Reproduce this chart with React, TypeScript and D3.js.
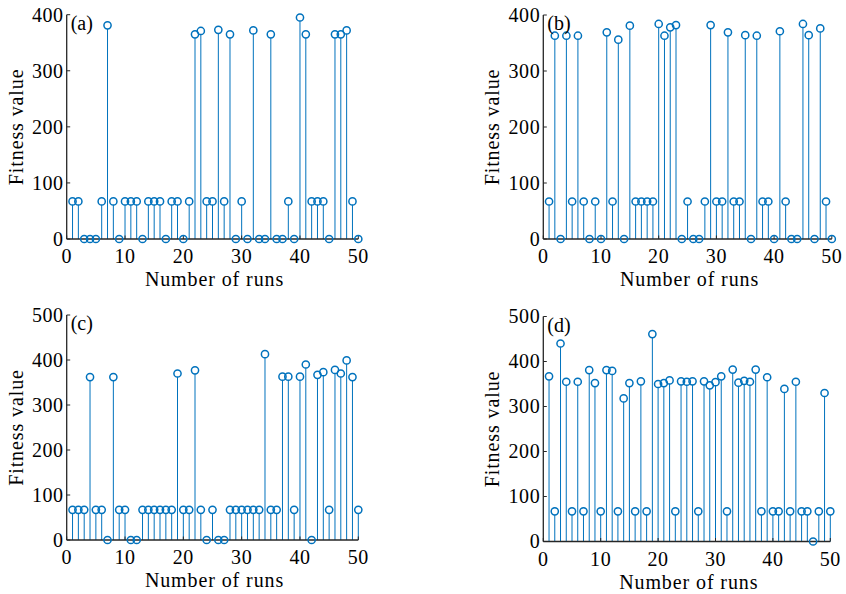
import React from "react";
import * as d3 from "d3";

const runs: number[] = d3.range(1, 51);

const fitnessA = [67,67,0,0,0,67,381,67,0,67,67,67,0,67,67,67,0,67,67,0,67,365,371,67,67,373,67,365,0,67,0,372,0,0,365,0,0,67,0,395,365,67,67,67,0,365,365,372,67,0];
const fitnessB = [67,363,0,363,67,363,67,0,67,0,369,67,356,0,381,67,67,67,67,384,363,378,382,0,67,0,0,67,382,67,67,369,67,67,364,0,363,67,67,0,371,67,0,0,384,364,0,376,67,0];
const fitnessC = [67,67,67,362,67,67,0,362,67,67,0,0,67,67,67,67,67,67,370,67,67,377,67,0,67,0,0,67,67,67,67,67,67,413,67,67,363,363,67,363,390,0,367,373,67,378,370,399,362,67];
const fitnessD = [367,67,440,355,67,355,67,381,352,67,381,379,67,318,352,67,356,67,461,350,352,358,67,356,355,356,67,356,347,354,367,67,382,353,357,355,382,67,365,67,67,339,67,355,67,67,0,67,330,67];

const panelLabels = ["(a)", "(b)", "(c)", "(d)"];
const xTicks = [0, 10, 20, 30, 40, 50];
const yTicksTop = [0, 100, 200, 300, 400];
const yTicksBottom = [0, 100, 200, 300, 400, 500];
const xTitle = "Number of runs";
const yTitle = "Fitness value";

const FONT = "'Liberation Serif', serif";
const FS = 20;
const STEM = "#0072BD";
const AXIS = "#262626";

const layout = [
  { values: fitnessA, yMax: 400, yTicks: yTicksTop, x0: 66.7, x1: 358.3, yTop: 14.7, yBot: 239 },
  { values: fitnessB, yMax: 400, yTicks: yTicksTop, x0: 543.3, x1: 831.8, yTop: 15, yBot: 239 },
  { values: fitnessC, yMax: 500, yTicks: yTicksBottom, x0: 66.7, x1: 358.3, yTop: 315, yBot: 540 },
  { values: fitnessD, yMax: 500, yTicks: yTicksBottom, x0: 543.3, x1: 830.3, yTop: 316.5, yBot: 541.5 },
];

function Panel({ cfg, label }: { cfg: typeof layout[number]; label: string }) {
  const x = d3.scaleLinear().domain([0, 50]).range([cfg.x0, cfg.x1]);
  const y = d3.scaleLinear().domain([0, cfg.yMax]).range([cfg.yBot, cfg.yTop]);
  const tl = 3.5;
  return (
    <g>
      {runs.map((r, i) => (
        <line key={"s" + r} x1={x(r)} x2={x(r)} y1={y(0)} y2={y(cfg.values[i]) + (cfg.values[i] > 0 ? 3.6 : 0)}
          stroke={STEM} strokeWidth={1} />
      ))}
      <line x1={cfg.x0} x2={cfg.x1} y1={cfg.yBot} y2={cfg.yBot} stroke={AXIS} strokeWidth={1.3} />
      <line x1={cfg.x0} x2={cfg.x0} y1={cfg.yBot} y2={cfg.yTop} stroke={AXIS} strokeWidth={1.3} />
      {cfg.yTicks.map((t) => (
        <g key={"y" + t}>
          <line x1={cfg.x0} x2={cfg.x0 + tl} y1={y(t)} y2={y(t)} stroke={AXIS} strokeWidth={1} />
          <text x={cfg.x0 - 3} y={y(t)} dy="0.34em" textAnchor="end" fontFamily={FONT} fontSize={FS}
            letterSpacing={0.6} fill="#000">{t}</text>
        </g>
      ))}
      {xTicks.map((t) => (
        <g key={"x" + t}>
          <line x1={x(t)} x2={x(t)} y1={cfg.yBot} y2={cfg.yBot - tl} stroke={AXIS} strokeWidth={1} />
          <text x={x(t)} y={cfg.yBot + 24} textAnchor="middle" fontFamily={FONT} fontSize={FS}
            letterSpacing={0.6} fill="#000">{t}</text>
        </g>
      ))}
      {runs.map((r, i) => (
        <circle key={"c" + r} cx={x(r)} cy={y(cfg.values[i])} r={3.6} fill="none" stroke={STEM} strokeWidth={1.5} />
      ))}
      <text x={cfg.x0 + 4} y={cfg.yTop + 15} fontFamily={FONT} fontSize={FS} fill="#000">{label}</text>
      <text x={(cfg.x0 + cfg.x1) / 2 + 2} y={cfg.yBot + 47} textAnchor="middle" fontFamily={FONT} fontSize={FS}
        letterSpacing={0.9} fill="#000">{xTitle}</text>
      <text transform={`translate(${cfg.x0 - 51},${(cfg.yTop + cfg.yBot) / 2}) rotate(-90)`} dy="0.34em"
        textAnchor="middle" fontFamily={FONT} fontSize={FS} letterSpacing={0.9} fill="#000">{yTitle}</text>
    </g>
  );
}

export default function App() {
  return (
    <svg width={846} height={594} style={{ position: "absolute", left: 0, top: 0, background: "#fff" }}>
      <rect width={846} height={594} fill="#fff" />
      {layout.map((cfg, i) => (
        <Panel key={i} cfg={cfg} label={panelLabels[i]} />
      ))}
    </svg>
  );
}
